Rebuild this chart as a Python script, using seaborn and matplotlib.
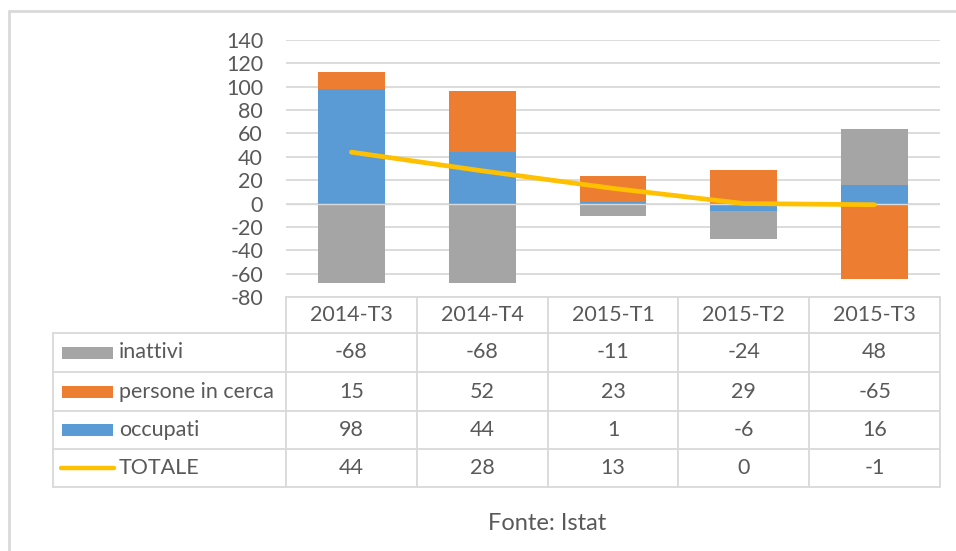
"""
Stacked bar + line chart with Excel-style data table (Istat labour market changes)
"""

import numpy as np
import matplotlib.pyplot as plt
import seaborn as sns
from matplotlib.lines import Line2D
from matplotlib.patches import Rectangle

# data
quarters = ['2014-T3', '2014-T4', '2015-T1', '2015-T2', '2015-T3']
occupati = [98, 44, 1, -6, 16]
persone_in_cerca = [15, 52, 23, 29, -65]
inattivi = [-68, -68, -11, -24, 48]
totale = [44, 28, 13, 0, -1]

y_ticks = list(range(-80, 141, 20))

# colours
C_BLUE = '#5B9BD5'
C_ORANGE = '#ED7D31'
C_GRAY = '#A5A5A5'
C_YELLOW = '#FFC000'
C_TEXT = '#595959'
C_GRID = '#D9D9D9'
FS = 15.5

sns.set_style('white')
plt.rcParams['font.family'] = ['Lato', 'DejaVu Sans']

W, H = 956, 551
fig = plt.figure(figsize=(W / 100, H / 100), dpi=100)

# plot area in pixels
x0, x1 = 286, 940
y_top, y_bot = 40, 297
ax = fig.add_axes([x0 / W, 1 - y_bot / H, (x1 - x0) / W, (y_bot - y_top) / H])


def px(x, y):
    """pixel -> figure fraction"""
    return x / W, 1 - y / H


# stacked bars: positives stack up, negatives stack down, in series order
series = [('occupati', occupati, C_BLUE),
          ('persone in cerca', persone_in_cerca, C_ORANGE),
          ('inattivi', inattivi, C_GRAY)]
pos_base = np.zeros(len(quarters))
neg_base = np.zeros(len(quarters))
for name, vals, col in series:
    v = np.array(vals, dtype=float)
    bottom = np.where(v >= 0, pos_base, neg_base)
    sns.barplot(x=quarters, y=v, bottom=bottom, color=col, saturation=1,
                width=0.51, linewidth=0, ax=ax, zorder=2)
    pos_base = pos_base + np.where(v >= 0, v, 0)
    neg_base = neg_base + np.where(v < 0, v, 0)

ax.axhline(0, color=C_GRID, lw=1.0, zorder=3)

# TOTALE line
sns.lineplot(x=np.arange(len(quarters)), y=totale, color=C_YELLOW, lw=3.4,
             ax=ax, zorder=4, solid_capstyle='round')

ax.set_xlim(-0.5, len(quarters) - 0.5)
ax.set_ylim(-80, 140)
ax.set_yticks(y_ticks)
ax.set_yticklabels([str(t) for t in y_ticks], color=C_TEXT, fontsize=FS)
ax.tick_params(axis='y', length=0, pad=16.5)
ax.set_xticks([])
ax.set_xlabel('')
ax.set_ylabel('')
for t in y_ticks:
    ax.axhline(t, color=C_GRID, lw=1.3, zorder=0)
for s in ax.spines.values():
    s.set_visible(False)

# data table
col_w = (x1 - x0) / len(quarters)
col_edges = [x0 + i * col_w for i in range(len(quarters) + 1)]
row_edges = [297, 333, 372, 411, 449, 487]
tab_left = 53

lines = []
# horizontal borders
lines.append(([x0, x1], [row_edges[0], row_edges[0]]))
for y in row_edges[1:]:
    lines.append(([tab_left, x1], [y, y]))
# vertical borders
lines.append(([tab_left, tab_left], [row_edges[1], row_edges[-1]]))
for x in col_edges:
    lines.append(([x, x], [row_edges[0], row_edges[-1]]))
for xs, ys in lines:
    fx = [v / W for v in xs]
    fy = [1 - v / H for v in ys]
    fig.add_artist(Line2D(fx, fy, color=C_GRID, lw=1.3))

# header
for i, q in enumerate(quarters):
    cx = (col_edges[i] + col_edges[i + 1]) / 2
    cy = (row_edges[0] + row_edges[1]) / 2
    fig.text(*px(cx, cy), q, ha='center', va='center', color=C_TEXT, fontsize=FS)

table_rows = [('inattivi', inattivi, C_GRAY, 'bar'),
              ('persone in cerca', persone_in_cerca, C_ORANGE, 'bar'),
              ('occupati', occupati, C_BLUE, 'bar'),
              ('TOTALE', totale, C_YELLOW, 'line')]
for r, (label, vals, col, kind) in enumerate(table_rows):
    cy = (row_edges[r + 1] + row_edges[r + 2]) / 2
    if kind == 'bar':
        fx, fy = px(62, cy + 6)
        fig.add_artist(Rectangle((fx, fy), 51 / W, 12 / H, color=col, lw=0))
    else:
        fig.add_artist(Line2D([61 / W, 114 / W], [1 - cy / H] * 2, color=col,
                              lw=3.2, solid_capstyle='round'))
    fig.text(*px(119, cy), label, ha='left', va='center', color=C_TEXT, fontsize=FS)
    for i, v in enumerate(vals):
        cx = (col_edges[i] + col_edges[i + 1]) / 2
        fig.text(*px(cx, cy), str(v), ha='center', va='center', color=C_TEXT, fontsize=FS)

fig.text(*px(547, 524), 'Fonte: Istat', ha='center', va='center', color=C_TEXT, fontsize=17)

# outer chart frame
fig.add_artist(Line2D([8.5 / W, 8.5 / W], [1 - 11 / H, 0], color=C_GRID, lw=2))
fig.add_artist(Line2D([8.5 / W, 1], [1 - 11 / H, 1 - 11 / H], color=C_GRID, lw=2))

fig.savefig('out.png', dpi=100)
